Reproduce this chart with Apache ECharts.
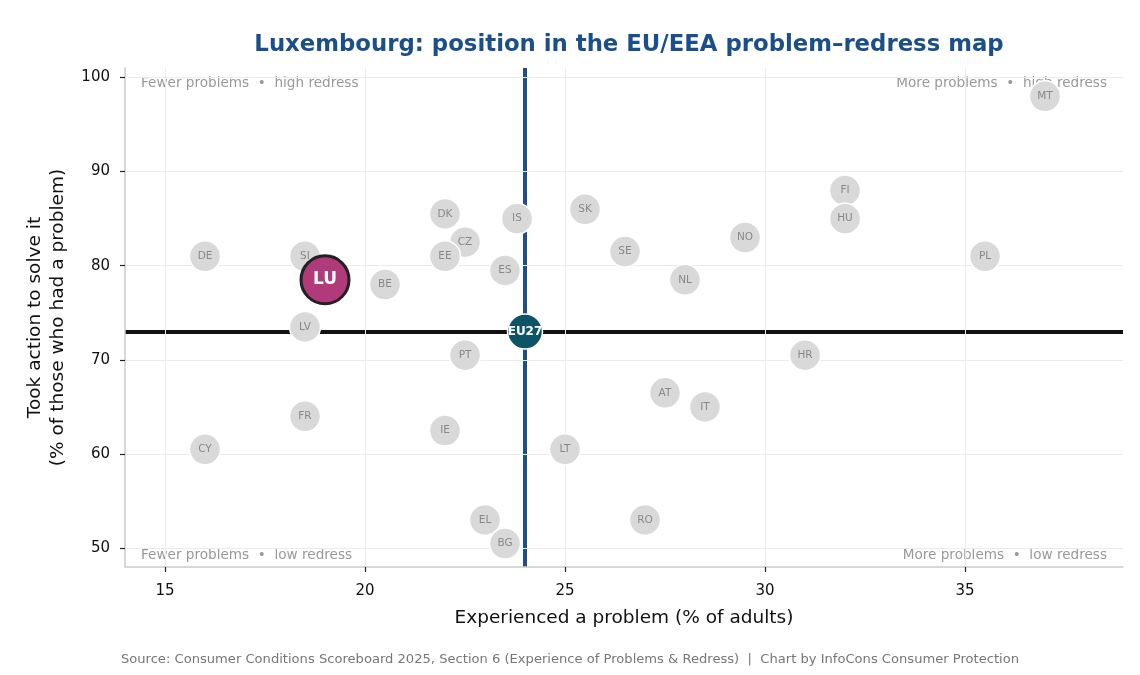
<!DOCTYPE html>
<html>
<head>
<meta charset="utf-8">
<title>Luxembourg: problem–redress map</title>
<script src="https://cdn.jsdelivr.net/npm/echarts@6/dist/echarts.min.js"></script>
<style>
  html, body { margin: 0; padding: 0; background: #fff; }
  #main { width: 1140px; height: 675px; }
</style>
</head>
<body>
<div id="main"></div>
<script>
// country codes, % of adults who experienced a problem, % of those who took action
var countries = ['DE', 'SI', 'BE', 'LV', 'FR', 'CY', 'DK', 'CZ', 'EE', 'IS', 'ES', 'PT', 'IE', 'EL', 'BG',
                 'SK', 'SE', 'NL', 'NO', 'LT', 'AT', 'IT', 'RO', 'HR', 'FI', 'HU', 'PL', 'MT'];
var problemPct = [16, 18.5, 20.5, 18.5, 18.5, 16, 22, 22.5, 22, 23.8, 23.5, 22.5, 22, 23, 23.5,
                  25.5, 26.5, 28, 29.5, 25, 27.5, 28.5, 27, 31, 32, 32, 35.5, 37];
var actionPct = [81, 81, 78, 73.5, 64, 60.5, 85.5, 82.5, 81, 85, 79.5, 70.5, 62.5, 53, 50.5,
                 86, 81.5, 78.5, 83, 60.5, 66.5, 65, 53, 70.5, 88, 85, 81, 98];

var focus = { code: 'LU', problem: 19, action: 78.5 };
var eu27 = { code: 'EU27', problem: 24, action: 73 };

var xTicks = [15, 20, 25, 30, 35];
var yTicks = [50, 60, 70, 80, 90, 100];

var FONT = 'DejaVu Sans';

var otherData = countries.map(function (c, i) {
    return { name: c, value: [problemPct[i], actionPct[i]] };
});

var myChart = echarts.init(document.getElementById('main'));
var option = {
    backgroundColor: '#ffffff',
    textStyle: { fontFamily: FONT },
    title: {
        text: 'Luxembourg: position in the EU/EEA problem–redress map',
        left: 624,
        top: 29,
        textAlign: 'center',
        textStyle: { color: '#1b4f8a', fontSize: 22.8, fontWeight: 'bold', fontFamily: FONT }
    },
    grid: { left: 125, right: 17, top: 68, bottom: 108 },
    xAxis: {
        type: 'value',
        min: 14,
        max: 38.95,
        name: 'Experienced a problem (% of adults)',
        nameLocation: 'middle',
        nameGap: 42,
        nameTextStyle: { color: '#111', fontSize: 18.5, fontFamily: FONT },
        axisLine: { show: true, onZero: false, lineStyle: { color: '#cccccc', width: 1.5 } },
        axisTick: { show: true, length: 5, customValues: xTicks, lineStyle: { color: '#222', width: 1.2 } },
        axisLabel: { customValues: xTicks, color: '#111', fontSize: 15, margin: 17, fontFamily: FONT },
        splitLine: { show: true, customValues: xTicks, lineStyle: { color: '#ebebeb', width: 1 } }
    },
    yAxis: {
        type: 'value',
        min: 48,
        max: 101,
        name: 'Took action to solve it\n(% of those who had a problem)',
        nameLocation: 'middle',
        nameGap: 55,
        nameTextStyle: { color: '#111', fontSize: 18.5, lineHeight: 23, fontFamily: FONT },
        axisLine: { show: true, onZero: false, lineStyle: { color: '#cccccc', width: 1.5 } },
        axisTick: { show: true, length: 5, customValues: yTicks, lineStyle: { color: '#222', width: 1.2 } },
        axisLabel: { customValues: yTicks, color: '#111', fontSize: 15, margin: 15, fontFamily: FONT },
        splitLine: { show: true, customValues: yTicks, lineStyle: { color: '#ebebeb', width: 1 } }
    },
    graphic: [
        { type: 'text', left: 141, top: 76, style: { text: 'Fewer problems  •  high redress', fill: '#999', font: '13.6px "DejaVu Sans"' } },
        { type: 'text', right: 33, top: 76, style: { text: 'More problems  •  high redress', fill: '#999', font: '13.6px "DejaVu Sans"' } },
        { type: 'text', left: 141, top: 548, style: { text: 'Fewer problems  •  low redress', fill: '#999', font: '13.6px "DejaVu Sans"' } },
        { type: 'text', right: 33, top: 548, style: { text: 'More problems  •  low redress', fill: '#999', font: '13.6px "DejaVu Sans"' } },
        { type: 'text', left: 'center', top: 653, style: { text: 'Source: Consumer Conditions Scoreboard 2025, Section 6 (Experience of Problems & Redress)  |  Chart by InfoCons Consumer Protection', fill: '#777', font: '13.1px "DejaVu Sans"' } }
    ],
    series: [
        {
            // EU27 average lines
            type: 'scatter',
            data: [],
            z: 1,
            silent: true,
            markLine: {
                z: -1,
                symbol: 'none',
                silent: true,
                animation: false,
                label: { show: false },
                data: [
                    { xAxis: eu27.problem, lineStyle: { color: '#1f4e89', width: 4, type: 'solid' } },
                    { yAxis: eu27.action, lineStyle: { color: '#111111', width: 4, type: 'solid' } }
                ]
            }
        },
        {
            name: 'Countries',
            type: 'scatter',
            z: 3,
            symbolSize: 31,
            data: otherData,
            itemStyle: { color: '#d9d9d9', borderColor: '#ffffff', borderWidth: 1.5, opacity: 1 },
            label: {
                show: true,
                position: 'inside',
                formatter: '{b}',
                color: '#888888',
                fontSize: 10.5,
                fontFamily: FONT
            }
        },
        {
            name: 'EU27',
            type: 'scatter',
            z: 4,
            symbolSize: 35,
            data: [{ name: eu27.code, value: [eu27.problem, eu27.action] }],
            itemStyle: { color: '#0d5566', borderColor: '#ffffff', borderWidth: 1.5, opacity: 1 },
            label: {
                show: true,
                position: 'inside',
                formatter: '{b}',
                color: '#ffffff',
                fontSize: 12,
                fontWeight: 'bold',
                fontFamily: FONT
            }
        },
        {
            name: 'LU',
            type: 'scatter',
            z: 5,
            symbolSize: 48,
            data: [{ name: focus.code, value: [focus.problem, focus.action] }],
            itemStyle: { color: '#b03a7a', borderColor: '#222222', borderWidth: 3, opacity: 1 },
            label: {
                show: true,
                position: 'inside',
                formatter: '{b}',
                color: '#ffffff',
                fontSize: 17,
                fontWeight: 'bold',
                fontFamily: FONT
            }
        }
    ]
};
myChart.setOption(option);
</script>
</body>
</html>
